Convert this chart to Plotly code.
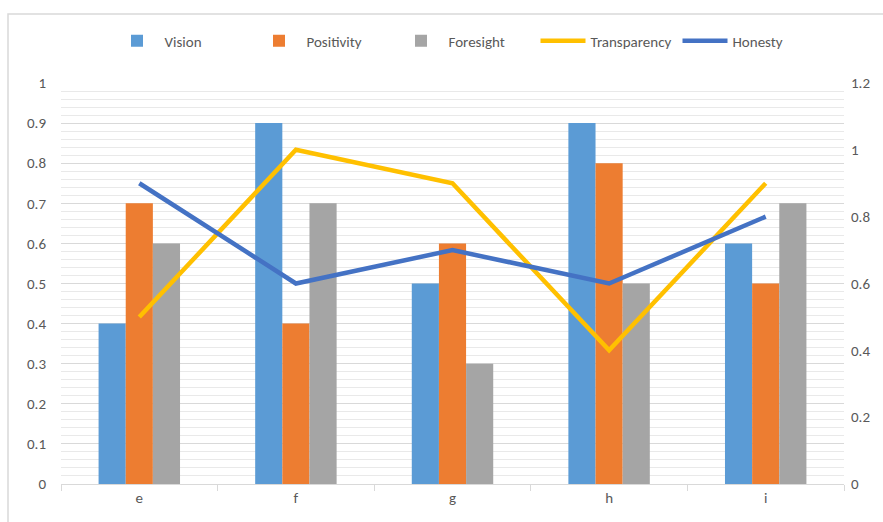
import plotly.graph_objects as go

categories = ["e", "f", "g", "h", "i"]
vision = [0.4, 0.9, 0.5, 0.9, 0.6]
positivity = [0.7, 0.4, 0.6, 0.8, 0.5]
foresight = [0.6, 0.7, 0.3, 0.5, 0.7]
transparency = [0.5, 1.0, 0.9, 0.4, 0.9]
honesty = [0.9, 0.6, 0.7, 0.6, 0.8]

left_ticks = [0, 0.1, 0.2, 0.3, 0.4, 0.5, 0.6, 0.7, 0.8, 0.9, 1]
right_ticks = [0, 0.2, 0.4, 0.6, 0.8, 1, 1.2]

font_family = "Carlito, Calibri, Liberation Sans, Arial"
text_color = "#595959"

fig = go.Figure()
fig.add_trace(go.Bar(x=categories, y=vision, name="Vision", marker=dict(color="#5B9BD5", line=dict(width=0))))
fig.add_trace(go.Bar(x=categories, y=positivity, name="Positivity", marker=dict(color="#ED7D31", line=dict(width=0))))
fig.add_trace(go.Bar(x=categories, y=foresight, name="Foresight", marker=dict(color="#A5A5A5", line=dict(width=0))))
fig.add_trace(go.Scatter(x=categories, y=transparency, name="Transparency", mode="lines",
                         line=dict(color="#FFC000", width=4.5), yaxis="y2"))
fig.add_trace(go.Scatter(x=categories, y=honesty, name="Honesty", mode="lines",
                         line=dict(color="#4472C4", width=4.5), yaxis="y2"))

fig.update_layout(
    width=883, height=522,
    margin=dict(l=61, r=39, t=83, b=38),
    paper_bgcolor="white", plot_bgcolor="white",
    font=dict(family=font_family, size=15, color=text_color),
    barmode="group", bargap=0.48, bargroupgap=0,
    showlegend=True,
    legend=dict(orientation="h", x=0.5 + 12 / 783, xanchor="center", y=1.105, yanchor="middle",
                font=dict(size=15, color=text_color), traceorder="normal",
                itemwidth=45, entrywidth=82, entrywidthmode="pixels",
                bgcolor="rgba(0,0,0,0)"),
    xaxis=dict(showline=True, linecolor="#D9D9D9", linewidth=1,
               ticks="outside", tickson="boundaries", ticklen=6, tickcolor="#D9D9D9",
               showgrid=False, tickfont=dict(size=15, color=text_color)),
    yaxis=dict(range=[0, 1], tickvals=left_ticks, ticktext=[f"{v:g}" for v in left_ticks],
               showgrid=True, gridcolor="#D9D9D9", gridwidth=1,
               minor=dict(dtick=0.02, showgrid=True, gridcolor="#E9E9E9", gridwidth=1),
               zeroline=False, showline=False, ticks="", ticklabelstandoff=14,
               tickfont=dict(size=15, color=text_color)),
    yaxis2=dict(range=[0, 1.2], tickvals=right_ticks, ticktext=[f"{v:g}" for v in right_ticks],
                overlaying="y", side="right", showgrid=False, zeroline=False, showline=False,
                ticks="", ticklabelstandoff=6, tickfont=dict(size=15, color=text_color)),
    shapes=[dict(type="rect", xref="paper", yref="paper",
                 x0=(8 - 61) / 783, x1=(900 - 61) / 783,
                 y0=(484 - 540) / 401, y1=(484 - 14) / 401,
                 line=dict(color="#D9D9D9", width=1.5), fillcolor="rgba(0,0,0,0)", layer="below")],
)

fig.write_html("out.html")
